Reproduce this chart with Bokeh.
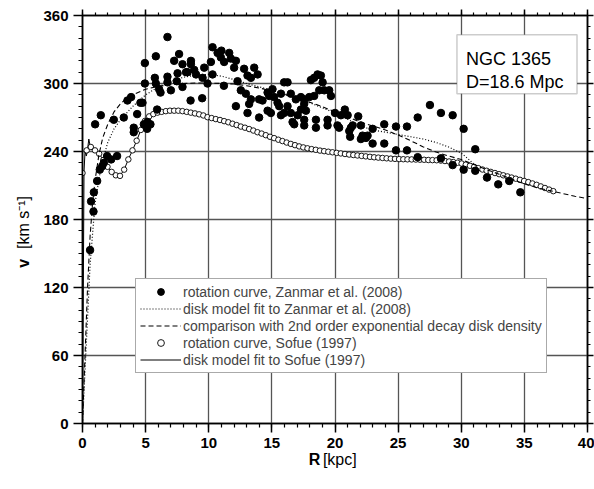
import numpy as np
from bokeh.plotting import figure
from bokeh.models import (Range1d, FixedTicker, LinearAxis, Legend, LegendItem,
                          Label, BoxAnnotation, CustomJSTickFormatter)
from bokeh.embed import file_html
from bokeh.resources import INLINE

FONT = "Liberation Sans"

# ---- data: rotation curve, Zanmar et al. (2008) ----
zanmar_r = [0.60, 0.68, 0.87, 0.90, 1.16, 1.37, 1.56, 1.69, 1.95, 2.27, 2.74, 1.00, 1.45, 2.48, 3.27,
            3.56, 3.85, 4.59, 4.33, 4.06, 4.06, 4.86, 5.12, 5.38, 5.91, 6.18, 8.56, 9.48, 4.94, 4.94,
            5.81, 5.73, 5.81, 6.73, 7.65, 7.26, 7.92, 8.59, 8.59, 6.73, 6.73, 6.07, 7.00, 7.53, 7.47,
            8.32, 8.85, 8.99, 9.64, 9.51, 9.90, 10.17, 10.30, 10.70, 10.96, 11.22, 11.62, 11.75, 12.15, 12.01,
            12.80, 13.60, 13.07, 13.34, 13.87, 12.28, 12.54, 12.94, 13.34, 13.20, 12.15, 13.07, 13.99, 14.26, 13.99,
            14.66, 14.79, 15.58, 14.66, 14.92, 15.97, 4.75, 5.15, 10.30, 8.20, 7.92, 11.20, 11.00,
            15.05, 15.72, 15.18, 15.45, 15.97, 16.24, 16.50, 16.90, 16.24, 15.72, 16.50, 17.04, 16.64, 16.77,
            17.30, 17.56, 17.56, 17.30, 17.70, 17.56, 17.56, 17.96, 18.35, 18.09, 18.35, 18.62, 18.88, 19.02,
            18.75, 19.15, 19.54, 19.68, 18.49, 18.49, 19.41, 19.41, 20.00, 20.33, 20.20, 20.47, 20.78, 21.00,
            21.26, 21.13, 21.40, 21.20, 21.84, 22.05, 22.18, 22.05, 22.45, 22.58, 22.98, 22.98, 23.90, 23.90,
            24.83, 24.83, 25.70, 25.70, 26.55, 26.55, 27.52, 28.39, 29.32, 30.19, 31.11, 28.39, 29.32, 30.19,
            31.11, 32.04, 32.93, 33.80, 34.68]
zanmar_v = [153, 196, 187, 204, 214, 224, 227, 230, 236, 233, 236, 264, 272, 268, 270,
            285, 288, 283, 273, 261, 257, 264, 260, 264, 277, 292, 285, 287, 318, 300,
            324, 305, 300, 341, 326, 320, 317, 320, 317, 306, 301, 295, 294, 309, 302,
            310, 312, 308, 314, 305, 300, 319, 308, 327, 323, 319, 327, 322, 320, 314,
            313, 314, 307, 305, 308, 302, 294, 291, 286, 282, 280, 274, 286, 285, 270,
            292, 289, 280, 276, 274, 274, 283, 266, 332, 310, 297, 298, 329,
            295, 291, 288, 283, 301, 301, 291, 286, 280, 272, 274, 272, 266, 264,
            288, 286, 282, 277, 276, 268, 263, 288, 289, 303, 305, 308, 307, 301,
            294, 294, 294, 289, 268, 261, 268, 263, 274, 261, 263, 272, 277, 272,
            261, 258, 263, 253, 271, 263, 254, 251, 252, 254, 260, 247, 264, 247,
            262, 241, 262, 241, 270, 235, 281, 274, 272, 260, 242, 234, 228, 224,
            223, 217, 211, 214, 204]

# ---- data: rotation curve, Sofue (1997) ----
sofue_r = [0.0, 0.33, 0.66, 0.99, 1.32, 1.65, 1.98, 2.31, 2.64, 2.97, 3.3, 3.63, 3.96, 4.29, 4.62,
           4.95, 5.28, 5.61, 5.94, 6.27, 6.6, 6.93, 7.26, 7.59, 7.92, 8.25, 8.58, 8.91, 9.24, 9.57,
           9.9, 10.23, 10.56, 10.89, 11.22, 11.55, 11.88, 12.21, 12.54, 12.87, 13.2, 13.53, 13.86, 14.19,
           14.52, 14.85, 15.18, 15.51, 15.84, 16.17, 16.5, 16.83, 17.16, 17.49, 17.82, 18.15, 18.48, 18.81,
           19.14, 19.47, 19.8, 20.13, 20.46, 20.79, 21.12, 21.45, 21.78, 22.11, 22.44, 22.77, 23.1, 23.43,
           23.76, 24.09, 24.42, 24.75, 25.08, 25.41, 25.74, 26.07, 26.4, 26.73, 27.06, 27.39, 27.72, 28.05,
           28.38, 28.71, 29.04, 29.37, 29.7, 30.03, 30.36, 30.69, 31.02, 31.35, 31.68, 32.01, 32.34, 32.67,
           33.0, 33.33, 33.66, 33.99, 34.32, 34.65, 34.98, 35.31, 35.64, 35.97, 36.3, 36.63, 36.96, 37.29]
sofue_v = [221, 241, 244, 241, 238, 232.5, 226.5, 222, 219, 218.5, 224, 233, 241, 249.5, 259,
           267, 271, 273, 274.3, 275, 275.6, 276, 276, 276, 275.6, 275, 274.3, 273.6, 272.8, 271.8,
           270.3, 269.5, 268.6, 267.8, 266.8, 265.8, 264.5, 263.3, 262, 261, 259.8, 258.5, 257, 255.8,
           254.4, 253, 251.8, 250.4, 249.2, 247.9, 246.7, 245.6, 244.5, 243.6, 242.8, 242.1, 241.5, 240.8,
           240.3, 239.8, 239.3, 238.8, 238.3, 237.8, 237.3, 236.9, 236.5, 236.1, 235.7, 235.3, 234.9, 234.6,
           234.3, 234, 233.7, 233.5, 233.3, 233.2, 233.1, 233, 232.9, 232.8, 232.7, 232.5, 232.4, 232.3,
           232, 231.6, 231.2, 230.7, 230.1, 229.4, 228.4, 227.4, 226.4, 225.3, 224.1, 223, 222, 221,
           220, 219, 218, 217, 216, 215, 214, 213, 211.8, 210.6, 209.2, 207.8, 206.4, 205]

# ---- disk model fit to Sofue (1997): inner part, then follows the curve ----
sofue_fit_r_inner = [0.0, 0.12, 0.2, 0.3, 0.38, 0.5, 0.62]
sofue_fit_v_inner = [0, 222, 240, 236, 240, 251, 244]

# ---- disk model fit to Zanmar et al. (2008) ----
zfit_r = [0, 0.3, 0.6, 1, 1.5, 2, 2.5, 3, 4, 5, 6, 7, 8, 9, 10, 11, 12, 13, 14, 15, 16, 17, 18, 19,
          20, 21, 22, 23, 24, 25, 26, 27, 28, 29, 30, 30.5, 31]
zfit_v = [0, 70, 140, 195, 228, 248, 260, 268, 280, 290, 297, 302, 305.5, 307.5, 308, 306.5, 303.5,
          300, 297, 294, 290.5, 287, 283, 278.5, 274, 268.5, 262.5, 259, 257, 255, 253, 251, 248, 244,
          238.5, 234, 229]

# ---- comparison with 2nd order exponential decay disk density ----
exp2_r = [0, 0.2, 0.4, 0.6, 0.8, 1.0, 1.3, 1.6, 2, 2.5, 3, 3.5, 4, 5, 6, 7, 8, 9, 10, 11, 12, 13, 14,
          15, 16, 17, 18, 19, 20, 21, 22, 23, 24, 25, 26, 27, 28, 29, 30, 31, 32, 33, 34, 35, 36, 37,
          38, 39, 40]
exp2_v = [0, 60, 120, 165, 195, 215, 237, 252, 264, 275, 282, 287, 290, 295, 297.5, 299, 300, 300.5,
          300.5, 300, 299.5, 298, 296, 293.5, 290.5, 287, 283.5, 279.5, 275, 270.5, 266, 262.5, 259,
          254.5, 249.5, 244, 239.5, 236, 233, 228.5, 224, 220, 215.5, 211.5, 208, 205.5, 203, 200.5, 198.5]

x_ticks = [0, 5, 10, 15, 20, 25, 30, 35, 40]
y_ticks = [0, 60, 120, 180, 240, 300, 360]

p = figure(width=594, height=489, output_backend="svg", toolbar_location=None,
           x_range=Range1d(0, 40), y_range=Range1d(0, 360),
           min_border_left=82, min_border_right=7, min_border_top=15, min_border_bottom=66)
p.background_fill_color = "white"
p.border_fill_color = "white"
p.outline_line_color = "black"
p.outline_line_width = 1.5

xt = FixedTicker(ticks=x_ticks, minor_ticks=list(range(0, 41)))
yt = FixedTicker(ticks=y_ticks, minor_ticks=list(range(0, 361, 10)))

for ax, t in ((p.xaxis[0], xt), (p.yaxis[0], yt)):
    ax.ticker = t
    ax.axis_line_width = 1.5
    ax.major_tick_line_width = 1.5
    ax.minor_tick_line_width = 1.2
    ax.major_tick_in = 0
    ax.major_tick_out = 9
    ax.minor_tick_in = 0
    ax.minor_tick_out = 4
    ax.major_label_text_font = FONT
    ax.major_label_text_font_style = "bold"
    ax.major_label_text_font_size = "15px"
    ax.major_label_text_color = "black"
    ax.major_label_standoff = 5

# mirrored tick marks on the top and right frame edges (no labels)
for loc, t in (("above", xt), ("right", yt)):
    a = LinearAxis(ticker=t, formatter=CustomJSTickFormatter(code="return ''"),
                   major_label_text_font_size="1px", major_label_standoff=0,
                   axis_line_width=1.5, major_tick_line_width=1.5, minor_tick_line_width=1.2,
                   major_tick_in=0, major_tick_out=6, minor_tick_in=0, minor_tick_out=3)
    p.add_layout(a, loc)

p.xgrid.ticker = FixedTicker(ticks=x_ticks)
p.ygrid.ticker = FixedTicker(ticks=y_ticks)
for g in (p.xgrid[0], p.ygrid[0]):
    g.grid_line_color = "#555555"
    g.grid_line_width = 1.3

# curves
r_sfit = p.line(sofue_fit_r_inner + sofue_r[3:], sofue_fit_v_inner + sofue_v[3:],
                line_color="black", line_width=1)
r_sof = p.scatter(sofue_r, sofue_v, marker="circle", size=5.5, fill_color="white",
                  line_color="black", line_width=0.9)
r_zfit = p.line(zfit_r, zfit_v, line_color="black", line_width=1.2, line_dash="1 2")
r_exp2 = p.line(exp2_r, exp2_v, line_color="black", line_width=1.1, line_dash="5 3")
r_zan = p.scatter(zanmar_r, zanmar_v, marker="circle", size=7.5, fill_color="black",
                  line_color="black")

legend = Legend(items=[
    LegendItem(label="rotation curve, Zanmar et al. (2008)", renderers=[r_zan]),
    LegendItem(label="disk model fit to Zanmar et al. (2008)", renderers=[r_zfit]),
    LegendItem(label="comparison with 2nd order exponential decay disk density", renderers=[r_exp2]),
    LegendItem(label="rotation curve, Sofue (1997)", renderers=[r_sof]),
    LegendItem(label="disk model fit to Sofue (1997)", renderers=[r_sfit]),
], location=(53, 50), margin=0, padding=4, spacing=0, glyph_width=41, glyph_height=17,
    label_height=17, label_standoff=2, label_text_font=FONT, label_text_font_size="14px",
    border_line_color="#555555", border_line_width=1.5, background_fill_alpha=1.0)
p.add_layout(legend)

# NGC label box
p.add_layout(BoxAnnotation(left=29.66, right=39.17, bottom=290.9, top=343.0,
                           fill_color="white", fill_alpha=1.0, line_color="#555555",
                           line_width=1.5, level="annotation"))
for txt, yy in (("NGC 1365", 321.5), ("D=18.6 Mpc", 300.9)):
    p.add_layout(Label(x=30.37, y=yy, text=txt, text_font=FONT, text_font_size="18px",
                       text_baseline="alphabetic", text_align="left", text_color="black"))

# axis titles: labels placed in side panels (so they are not clipped to the frame),
# positioned with data coordinates
def lab(text, x, y, size, style, angle, side):
    p.add_layout(Label(x=x, y=y, text=text,
                       text_font=FONT, text_font_size=size, text_font_style=style,
                       angle=angle, text_align="left", text_baseline="middle",
                       text_color="black"), side)

lab("v", -4.65, 137.4, "16px", "bold", np.pi / 2, "left")
lab("[km s\u207b\u00b9]", -4.65, 154.0, "16px", "normal", np.pi / 2, "left")

lab("R", 17.93, -32.0, "16px", "bold", 0.0, "below")
lab("[kpc]", 19.04, -32.0, "16px", "normal", 0.0, "below")

open("out.html", "w").write(file_html(p, INLINE))
